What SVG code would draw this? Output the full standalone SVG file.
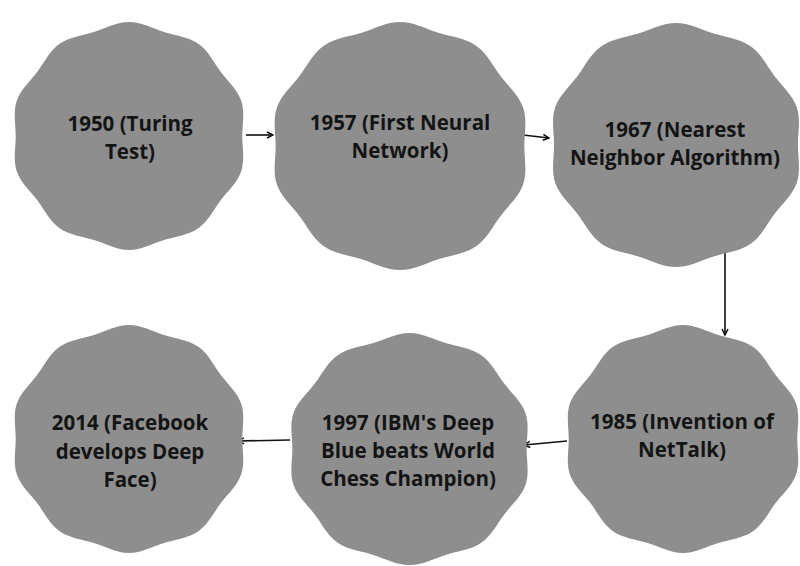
<svg xmlns="http://www.w3.org/2000/svg" xmlns:xlink="http://www.w3.org/1999/xlink" width="800" height="566" viewBox="0 0 800 566">
<style>
.badge{fill:#8e8e8e}
.lbl{font-family:"Open Sans","Liberation Sans",sans-serif;font-weight:700;font-size:20.5px;fill:#141414;text-anchor:middle}
.conn{stroke:#111;stroke-width:1.6;fill:none}
</style>
<defs>
<path id="wavy" d="M96,0 C96,10.5 98.351,20.916 95.106,30.902 C91.861,40.888 83.838,47.933 77.666,56.428 C71.494,64.923 67.274,74.730 58.779,80.902 C50.284,87.074 39.652,88.057 29.666,91.302 C19.680,94.547 10.5,100 0,100 C-10.5,100 -19.680,94.547 -29.666,91.302 C-39.652,88.057 -50.284,87.074 -58.779,80.902 C-67.274,74.730 -71.494,64.923 -77.666,56.428 C-83.838,47.933 -91.861,40.888 -95.106,30.902 C-98.351,20.916 -96,10.5 -96,0 C-96,-10.5 -98.351,-20.916 -95.106,-30.902 C-91.861,-40.888 -83.838,-47.933 -77.666,-56.428 C-71.494,-64.923 -67.274,-74.730 -58.779,-80.902 C-50.284,-87.074 -39.652,-88.057 -29.666,-91.302 C-19.680,-94.547 -10.5,-100 0,-100 C10.5,-100 19.680,-94.547 29.666,-91.302 C39.652,-88.057 50.284,-87.074 58.779,-80.902 C67.274,-74.730 71.494,-64.923 77.666,-56.428 C83.838,-47.933 91.861,-40.888 95.106,-30.902 C98.351,-20.916 96,-10.5 96,0 Z"/>
<marker id="arr" viewBox="0 0 8 8" refX="7" refY="4" markerWidth="8" markerHeight="8" markerUnits="userSpaceOnUse" orient="auto">
<path d="M1,1 L7,4 L1,7" fill="none" stroke="#111" stroke-width="1.5"/>
</marker>
</defs>
<rect width="800" height="566" fill="#ffffff"/>
<g id="connectors">
<line class="conn" x1="246" y1="135" x2="273" y2="135" marker-end="url(#arr)"/>
<line class="conn" x1="523" y1="135" x2="549" y2="138" marker-end="url(#arr)"/>
<line class="conn" x1="725" y1="250" x2="725" y2="335" marker-end="url(#arr)"/>
<line class="conn" x1="567" y1="441" x2="524" y2="445" marker-end="url(#arr)"/>
<line class="conn" x1="290" y1="440" x2="238" y2="441" marker-end="url(#arr)"/>
</g>
<g id="n1950">
<use xlink:href="#wavy" class="badge" transform="translate(129,136) scale(1.18,1.14)"/>
<text class="lbl" x="130" y="130.5">1950 (Turing</text>
<text class="lbl" x="130" y="159">Test)</text>
</g>
<g id="n1957">
<use xlink:href="#wavy" class="badge" transform="translate(400,146) scale(1.295,1.24)"/>
<text class="lbl" x="400" y="130">1957 (First Neural</text>
<text class="lbl" x="400" y="158">Network)</text>
</g>
<g id="n1967">
<use xlink:href="#wavy" class="badge" transform="translate(676,145) scale(1.27,1.22)"/>
<text class="lbl" x="675" y="137">1967 (Nearest</text>
<text class="lbl" x="675" y="165">Neighbor Algorithm)</text>
</g>
<g id="n1985">
<use xlink:href="#wavy" class="badge" transform="translate(683,439) scale(1.19,1.14)"/>
<text class="lbl" x="682" y="429">1985 (Invention of</text>
<text class="lbl" x="682" y="457">NetTalk)</text>
</g>
<g id="n1997">
<use xlink:href="#wavy" class="badge" transform="translate(409.5,449) scale(1.22,1.16)"/>
<text class="lbl" x="408" y="430">1997 (IBM's Deep</text>
<text class="lbl" x="408" y="458">Blue beats World</text>
<text class="lbl" x="408" y="486">Chess Champion)</text>
</g>
<g id="n2014">
<use xlink:href="#wavy" class="badge" transform="translate(129,439) scale(1.18,1.14)"/>
<text class="lbl" x="130" y="430">2014 (Facebook</text>
<text class="lbl" x="130" y="458.5">develops Deep</text>
<text class="lbl" x="130" y="487">Face)</text>
</g>
</svg>
